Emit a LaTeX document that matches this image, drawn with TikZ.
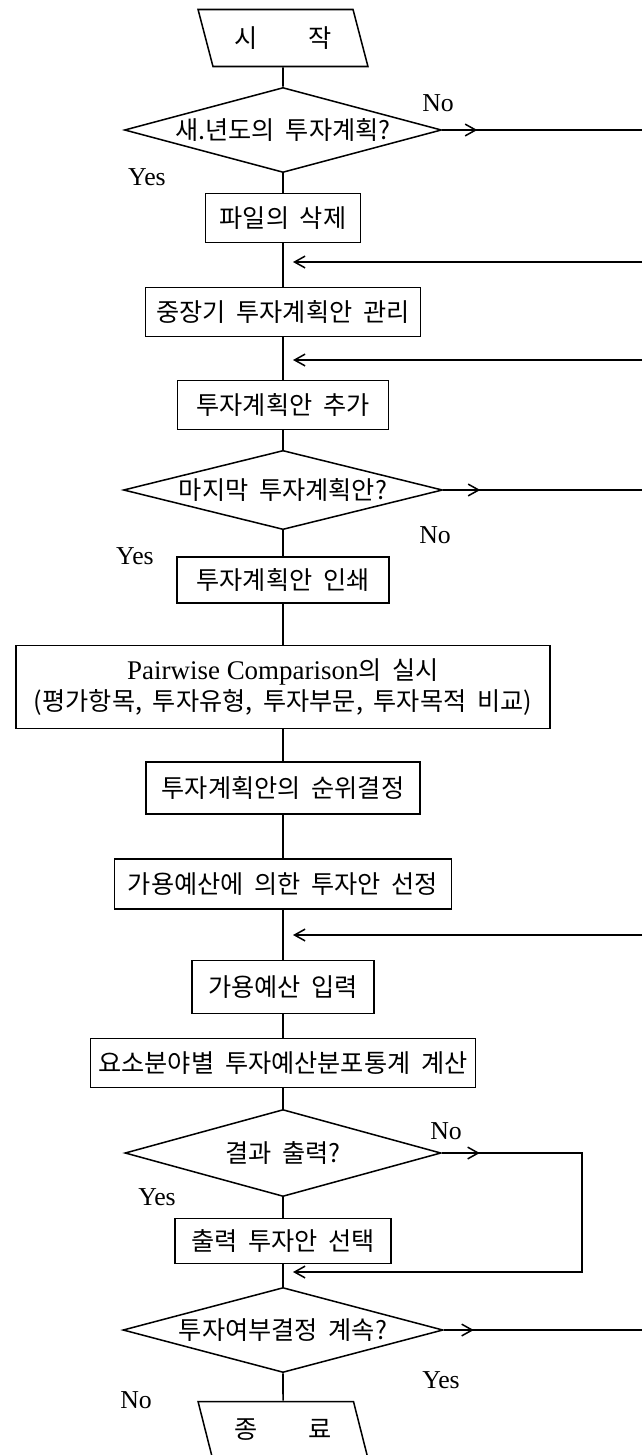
\documentclass[tikz,border=0pt]{standalone}
\usepackage{fontspec}
\setmainfont{Liberation Serif}
\newfontfamily\krfont[WordSpace=1.9]{Noto Sans CJK KR}
\usepackage{tikz}
\usetikzlibrary{arrows.meta,calc,positioning,shapes.geometric}

\tikzset{
  box/.style={draw, line width=1.3pt, inner sep=0pt, minimum height=1.47cm,
    font=\krfont\fontsize{21.5}{27}\selectfont},
  decision/.style={draw, diamond, line width=1.3pt, inner sep=0pt, aspect=3.7,
    font=\krfont\fontsize{21.5}{27}\selectfont},
  terminal/.style={draw, trapezium, trapezium left angle=110, trapezium right angle=70,
    trapezium stretches=true, line width=1.3pt, minimum width=5.1cm, minimum height=1.71cm,
    font=\krfont\fontsize{21.5}{27}\selectfont},
  lbl/.style={font=\fontsize{22}{26}\selectfont, inner sep=0pt},
  flow/.style={line width=1.3pt},
  barb/.style={line width=1.3pt, -{Straight Barb[length=9pt,width=10pt]}}
}

\begin{document}
\begin{tikzpicture}[x=0.03cm,y=-0.03cm]
\useasboundingbox (0,0) rectangle (642,1455);
% main column
\node[terminal] (start) at (283,38) {시\hspace{2em}작};
\node[decision, minimum width=9.51cm, minimum height=2.55cm] (d1) at (283,130) {새.년도의 투자계획?};
\node[box, minimum width=4.65cm] (b1) at (283,218) {파일의 삭제};
\node[box, minimum width=8.25cm] (b2) at (283,312) {중장기 투자계획안 관리};
\node[box, minimum width=6.33cm] (b3) at (283,405) {투자계획안 추가};
\node[decision, minimum width=9.57cm, minimum height=2.34cm] (d2) at (283,490) {마지막 투자계획안?};
\node[box, minimum width=6.36cm, minimum height=1.38cm] (b4) at (283,580) {투자계획안 인쇄};
\node[box, minimum width=16.02cm, minimum height=2.49cm, align=center] (b5) at (283,687)
  {{\rmfamily\fontsize{23}{27}\selectfont Pairwise Comparison}의 실시\\(평가항목, 투자유형, 투자부문, 투자목적 비교)};
\node[box, minimum width=8.22cm, minimum height=1.56cm] (b6) at (283,788) {투자계획안의 순위결정};
\node[box, minimum width=10.11cm, minimum height=1.5cm] (b7) at (283,884) {가용예산에 의한 투자안 선정};
\node[box, minimum width=5.46cm, minimum height=1.59cm] (b8) at (283,987) {가용예산 입력};
\node[box, minimum width=11.55cm] (b9) at (283,1063) {요소분야별 투자예산분포통계 계산};
\node[decision, minimum width=9.48cm, minimum height=2.61cm] (d3) at (283,1153) {결과 출력?};
\node[box, minimum width=6.48cm, minimum height=1.35cm] (b10) at (283,1241) {출력 투자안 선택};
\node[decision, minimum width=9.6cm, minimum height=2.55cm] (d4) at (283,1330) {투자여부결정 계속?};
\node[terminal] (stop) at (283,1430) {종\hspace{2em}료};

% yes / no
\node[lbl] (no1) at (438,103) {No};
\node[lbl] (yes1) at (147,177) {Yes};
\node[lbl] (no2) at (435,535) {No};
\node[lbl] (yes2) at (135,556) {Yes};
\node[lbl] (no3) at (446,1131) {No};
\node[lbl] (yes3) at (157,1197) {Yes};
\node[lbl] (yes4) at (441,1380) {Yes};
\node[lbl] (no4) at (136,1400) {No};

% right edge ends
\coordinate (e1) at (642,130);
\coordinate (e2) at (642,262);
\coordinate (m2) at (293,262);
\coordinate (e3) at (642,360);
\coordinate (m3) at (293,360);
\coordinate (e4) at (642,490);
\coordinate (e5) at (642,935);
\coordinate (m5) at (293,935);
\coordinate (k1) at (582,1272);
\coordinate (m6) at (293,1272);
\coordinate (e6) at (642,1330);

\draw[flow] (start) to (d1);
\draw[flow] (d1) to (b1);
\draw[flow] (b1) to (b2);
\draw[flow] (b2) to (b3);
\draw[flow] (b3) to (d2);
\draw[flow] (d2) to (b4);
\draw[flow] (b4) to (b5);
\draw[flow] (b5) to (b6);
\draw[flow] (b6) to (b7);
\draw[flow] (b7) to (b8);
\draw[flow] (b8) to (b9);
\draw[flow] (b9) to (d3);
\draw[flow] (d3) to (b10);
\draw[flow] (b10) to (d4);
\draw[flow] (d4) to (stop);

% no branches
\draw[flow] (d1.east) to (e1);
\draw[barb] (d1.east) to ++(35,0);
\draw[barb] (e2) to (m2);
\draw[barb] (e3) to (m3);
\draw[flow] (d2.east) to (e4);
\draw[barb] (d2.east) to ++(37,0);
\draw[barb] (e5) to (m5);
\draw[barb] (d3.east) -| (k1) -- (m6);
\draw[barb] (d3.east) to ++(38,0);
\draw[flow] (d4.east) to (e6);
\draw[barb] (d4.east) to ++(30,0);
\end{tikzpicture}
\end{document}
